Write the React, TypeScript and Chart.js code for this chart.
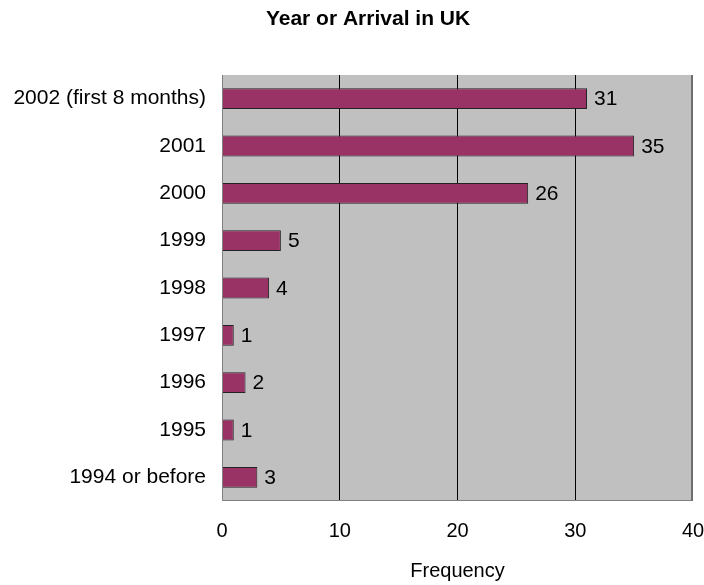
import React, { useEffect, useRef } from "react";
import { Chart, registerables } from "chart.js";

Chart.register(...registerables);

const categories = [
  "2002 (first 8 months)",
  "2001",
  "2000",
  "1999",
  "1998",
  "1997",
  "1996",
  "1995",
  "1994 or before",
];
const frequency = [31, 35, 26, 5, 4, 1, 2, 1, 3];
const xTicks = [0, 10, 20, 30, 40];
const chartTitle = "Year or Arrival in UK";

const FONT = "Arial, 'Liberation Sans', sans-serif";

const plotFrame = {
  id: "plotFrame",
  beforeDraw(chart: any) {
    const { ctx, chartArea: a } = chart;
    ctx.save();
    ctx.fillStyle = "#c0c0c0";
    ctx.fillRect(a.left, a.top, a.right - a.left, a.bottom - a.top);
    ctx.restore();
  },
  afterDraw(chart: any) {
    const { ctx, chartArea: a } = chart;
    ctx.save();
    ctx.strokeStyle = "#808080";
    ctx.lineWidth = 1;
    ctx.beginPath();
    ctx.moveTo(a.left + 0.5, a.top);
    ctx.lineTo(a.left + 0.5, a.bottom - 0.5);
    ctx.lineTo(a.right - 1, a.bottom - 0.5);
    ctx.stroke();
    ctx.lineWidth = 2;
    ctx.strokeStyle = "#6e6e6e";
    ctx.beginPath();
    ctx.moveTo(a.right - 1, a.top);
    ctx.lineTo(a.right - 1, a.bottom);
    ctx.stroke();
    // chart heading, centred over the labels and plot together
    ctx.font = `bold 21px ${FONT}`;
    ctx.fillStyle = "#000";
    ctx.textAlign = "center";
    ctx.textBaseline = "middle";
    ctx.fillText(chartTitle, 368, 19);
    ctx.restore();
  },
};

const valueLabels = {
  id: "valueLabels",
  afterDatasetsDraw(chart: any) {
    const { ctx } = chart;
    const meta = chart.getDatasetMeta(0);
    ctx.save();
    ctx.font = `21px ${FONT}`;
    ctx.fillStyle = "#000";
    ctx.textAlign = "left";
    ctx.textBaseline = "middle";
    meta.data.forEach((bar: any, i: number) => {
      ctx.fillText(String(frequency[i]), bar.x + 7, bar.y + 1);
    });
    ctx.restore();
  },
};

export default function App() {
  const ref = useRef<HTMLCanvasElement>(null);

  useEffect(() => {
    document.body.style.margin = "0";
    const chart = new Chart(ref.current!, {
      type: "bar",
      data: {
        labels: categories,
        datasets: [
          {
            data: frequency,
            backgroundColor: "#993366",
            borderColor: "#222222",
            borderWidth: 1,
            borderSkipped: "left",
            barPercentage: 0.44,
            categoryPercentage: 1,
          },
        ],
      },
      options: {
        indexAxis: "y",
        animation: false,
        responsive: false,
        devicePixelRatio: 1,
        layout: { padding: { left: 0, right: 11, top: 75, bottom: 0 } },
        plugins: {
          legend: { display: false },
          tooltip: { enabled: false },
          title: { display: false },
        },
        scales: {
          x: {
            min: 0,
            max: 40,
            afterBuildTicks(scale: any) {
              scale.ticks = xTicks.map((v) => ({ value: v }));
            },
            afterFit(scale: any) {
              scale.height = 84;
              scale.paddingLeft = 0;
              scale.paddingRight = 0;
            },
            grid: {
              color: (c: any) =>
                c.tick && (c.tick.value === 0 || c.tick.value === 40) ? "rgba(0,0,0,0)" : "#000",
              lineWidth: 1,
              drawTicks: false,
            },
            border: { display: false },
            ticks: {
              color: "#000",
              padding: 18,
              font: { family: FONT, size: 20 },
            },
            title: {
              display: true,
              text: "Frequency",
              color: "#000",
              font: { family: FONT, size: 20 },
              padding: { top: 0, bottom: 2 },
            },
          },
          y: {
            afterFit(scale: any) {
              scale.width = 222;
              scale.paddingTop = 0;
              scale.paddingBottom = 0;
            },
            grid: { display: false, drawTicks: false },
            border: { display: false },
            ticks: {
              color: "#000",
              padding: 16,
              font: { family: FONT, size: 21 },
            },
          },
        },
      },
      plugins: [plotFrame, valueLabels],
    });
    return () => chart.destroy();
  }, []);

  return <canvas ref={ref} width={704} height={585} style={{ display: "block" }} />;
}
